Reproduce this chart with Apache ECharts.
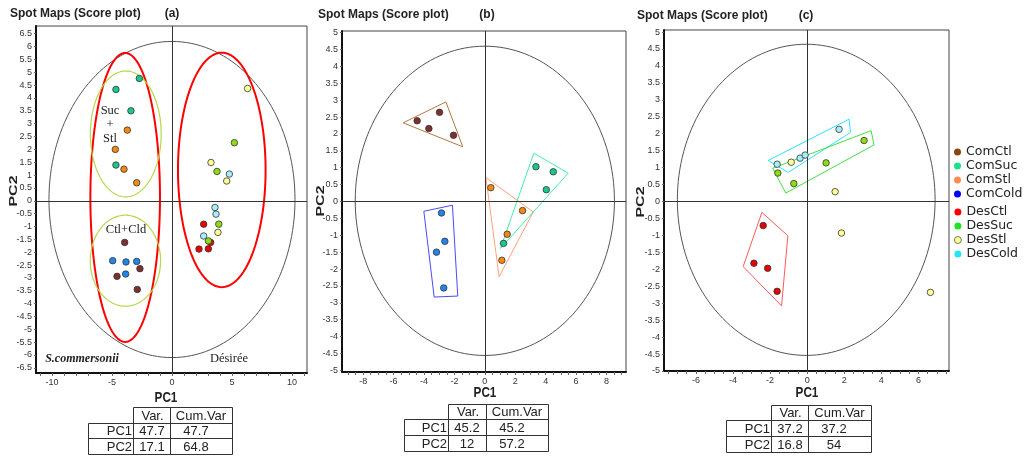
<!DOCTYPE html>
<html lang="en">
<head>
<meta charset="UTF-8">
<title>Spot Maps (Score plot)</title>
<script src="https://cdn.jsdelivr.net/npm/echarts@6/dist/echarts.min.js"></script>
<style>
    html, body { margin: 0; padding: 0; background: #fff; }
    #main { width: 1024px; height: 464px; }
</style>
</head>
<body>
<div id="main"></div>
<script>
// ---------- panel (a): both genotypes ----------
var aComCtl  = [[-3.94, -1.62], [-2.67, -2.64], [-4.58, -2.94], [-2.89, -3.45]];
var aComSuc  = [[-2.72, 4.76], [-4.67, 4.33], [-3.42, 3.5], [-4.67, 1.39]];
var aComStl  = [[-3.72, 2.75], [-4.72, 2.0], [-4.0, 1.23], [-2.94, 0.70]];
var aComCold = [[-4.94, -2.33], [-3.83, -2.38], [-2.94, -2.36], [-3.86, -2.85]];
var aDesCtl  = [[2.64, -0.91], [3.22, -1.62], [2.25, -1.88], [3.03, -1.87]];
var aDesSuc  = [[5.2, 2.26], [3.75, 1.14], [3.9, -0.91], [3.03, -1.56]];
var aDesStl  = [[6.3, 4.37], [3.25, 1.49], [4.56, 0.77], [3.83, -1.23]];
var aDesCold = [[4.78, 1.04], [3.58, -0.26], [3.67, -0.52], [2.64, -1.37]];
// ellipses: [cx, cy, rx, ry]
var aHotelling = [[0, 0.05, 10.25, 6.15]];
var aGenotype  = [[-3.9, 0.13, 2.9, 5.62], [4.15, 1.2, 3.65, 4.56]];
var aTreatment = [[-3.85, 2.6, 2.95, 2.45], [-3.88, -2.33, 2.93, 1.77]];

// ---------- panel (b): S.commersonii ----------
var bComCtl  = [[-2.98, 2.64], [-4.45, 2.39], [-3.68, 2.16], [-2.06, 1.96]];
var bComSuc  = [[3.36, 1.03], [4.5, 0.88], [4.04, 0.35], [1.23, -1.24]];
var bComStl  = [[0.39, 0.41], [2.48, -0.27], [1.47, -0.97], [1.12, -1.74]];
var bComCold = [[-2.85, -0.34], [-2.63, -1.18], [-3.18, -1.5], [-2.7, -2.56]];
var bHotelling = [[0, 0.02, 8.52, 4.58]];
var bHullCtl  = [[-5.37, 2.33], [-2.56, 2.95], [-1.45, 1.62]];
var bHullCold = [[-4.01, -0.29], [-2.13, -0.11], [-1.78, -2.8], [-3.33, -2.83]];
var bHullStl  = [[0.07, 0.71], [3.18, -0.31], [0.94, -2.23]];
var bHullSuc  = [[3.22, 1.43], [5.48, 0.84], [1.03, -1.39]];

// ---------- panel (c): Desiree ----------
var cDesCtl  = [[-2.37, -0.71], [-2.87, -1.82], [-2.13, -1.97], [-1.62, -2.65]];
var cDesSuc  = [[3.07, 1.8], [1.02, 1.14], [-1.58, 0.84], [-0.72, 0.53]];
var cDesStl  = [[-0.86, 1.16], [1.51, 0.29], [1.85, -0.93], [6.65, -2.68]];
var cDesCold = [[1.72, 2.13], [-1.62, 1.1], [-0.38, 1.28], [-0.11, 1.37]];
var cHotelling = [[-0.05, 0.05, 6.95, 4.59]];
var cHullCold = [[-2.1, 1.21], [2.26, 2.43], [2.34, 2.04], [-1.02, 0.86]];
var cHullSuc  = [[-1.86, 0.98], [3.45, 2.09], [3.61, 1.67], [-1.15, 0.25]];
var cHullCtl  = [[-2.44, -0.32], [-1.04, -1.01], [-1.38, -3.08], [-3.45, -1.92]];

// ---------- axis ticks ----------
var aXLabels = [-10, -5, 0, 5, 10];
var aXTicks  = [-11, -10, -9, -8, -7, -6, -5, -4, -3, -2, -1, 0, 1, 2, 3, 4, 5, 6, 7, 8, 9, 10, 11];
var aYLabels = [-6.5, -6, -5.5, -5, -4.5, -4, -3.5, -3, -2.5, -2, -1.5, -1, -0.5, 0,
                0.5, 1, 1.5, 2, 2.5, 3, 3.5, 4, 4.5, 5, 5.5, 6, 6.5];
var bXLabels = [-8, -6, -4, -2, 0, 2, 4, 6, 8];
var bXTicks  = [-9, -8.5, -8, -7.5, -7, -6.5, -6, -5.5, -5, -4.5, -4, -3.5, -3, -2.5, -2, -1.5, -1, -0.5, 0,
                0.5, 1, 1.5, 2, 2.5, 3, 3.5, 4, 4.5, 5, 5.5, 6, 6.5, 7, 7.5, 8, 8.5, 9];
var cXLabels = [-6, -4, -2, 0, 2, 4, 6];
var cXTicks  = [-7.5, -7, -6.5, -6, -5.5, -5, -4.5, -4, -3.5, -3, -2.5, -2, -1.5, -1, -0.5, 0,
                0.5, 1, 1.5, 2, 2.5, 3, 3.5, 4, 4.5, 5, 5.5, 6, 6.5, 7, 7.5];
var bcYLabels = [-5, -4.5, -4, -3.5, -3, -2.5, -2, -1.5, -1, -0.5, 0, 0.5, 1, 1.5, 2, 2.5, 3, 3.5, 4, 4.5, 5];

// ---------- variance tables ----------
var pcNames = ['PC1', 'PC2'];
var aVar = ['47.7', '17.1'], aCum = ['47.7', '64.8'];
var bVar = ['45.2', '12'],   bCum = ['45.2', '57.2'];
var cVar = ['37.2', '16.8'], cCum = ['37.2', '54'];

var FONT = 'Arial, "Liberation Sans", sans-serif';
var SERIF = '"Times New Roman", "Liberation Serif", serif';

var myChart = echarts.init(document.getElementById('main'));

function xAxisFor(g, min, max, labels, ticks) {
    return {
        type: 'value', gridIndex: g, min: min, max: max,
        axisLine: { onZero: false, lineStyle: { color: '#111', width: 2 } },
        axisTick: { show: true, customValues: ticks, length: 3, lineStyle: { color: '#666' } },
        axisLabel: { customValues: labels, fontSize: 9, color: '#333', margin: 5, fontFamily: FONT },
        splitLine: { show: false }
    };
}
function yAxisFor(g, min, max, labels) {
    return {
        type: 'value', gridIndex: g, min: min, max: max,
        axisLine: { onZero: false, lineStyle: { color: '#111', width: 2 } },
        axisTick: { show: true, customValues: labels, length: 2, lineStyle: { color: '#666' } },
        axisLabel: { customValues: labels, fontSize: 9, color: '#333', margin: 4, fontFamily: FONT },
        splitLine: { show: false }
    };
}
function pts(name, g, data, color) {
    return {
        name: name, type: 'scatter', xAxisIndex: g, yAxisIndex: g, data: data,
        symbol: 'circle', symbolSize: 6.5, z: 5,
        itemStyle: { color: color, borderColor: '#333', borderWidth: 0.8, opacity: 1 }
    };
}
function cross(g) {
    return {
        type: 'line', xAxisIndex: g, yAxisIndex: g, data: [], silent: true, z: 1,
        markLine: {
            silent: true, symbol: 'none', label: { show: false },
            lineStyle: { color: '#333', width: 1, type: 'solid' },
            data: [{ xAxis: 0 }, { yAxis: 0 }]
        }
    };
}
function ellipses(g, data, color, width) {
    return {
        type: 'custom', xAxisIndex: g, yAxisIndex: g, data: data, silent: true, z: 2,
        encode: { x: 0, y: 1 },
        renderItem: function (params, api) {
            var cx = api.value(0), cy = api.value(1), rx = api.value(2), ry = api.value(3);
            var p = [];
            for (var i = 0; i < 160; i++) {
                var t = i / 160 * 2 * Math.PI;
                p.push(api.coord([cx + rx * Math.cos(t), cy + ry * Math.sin(t)]));
            }
            return { type: 'polygon', shape: { points: p },
                     style: { fill: 'none', stroke: color, lineWidth: width } };
        }
    };
}
function hull(g, verts, color) {
    return {
        type: 'line', xAxisIndex: g, yAxisIndex: g, data: verts.concat([verts[0]]),
        showSymbol: false, symbol: 'none', silent: true, z: 3,
        lineStyle: { color: color, width: 1 }
    };
}

function text(x, y, s, o) {
    o = o || {};
    return {
        type: 'text', x: x, y: y, silent: true,
        rotation: o.rotation || 0, scaleX: o.scaleX || 1, scaleY: o.scaleY || 1,
        style: {
            text: s, fill: o.color || '#222',
            fontSize: o.size || 12, fontFamily: o.family || FONT,
            fontWeight: o.weight || 'normal', fontStyle: o.style || 'normal',
            align: o.align || 'center', verticalAlign: 'middle'
        }
    };
}
function table(cols, rows, vars, cums) {
    var g = [];
    function ln(x1, y1, x2, y2) {
        g.push({ type: 'line', silent: true,
                 shape: { x1: x1 + 0.5, y1: y1 + 0.5, x2: x2 + 0.5, y2: y2 + 0.5 },
                 style: { stroke: '#333', lineWidth: 1 } });
    }
    ln(cols[1], rows[0], cols[3], rows[0]);
    for (var r = 1; r < 4; r++) ln(cols[0], rows[r], cols[3], rows[r]);
    ln(cols[0], rows[1], cols[0], rows[3]);
    for (var c = 1; c < 4; c++) ln(cols[c], rows[0], cols[c], rows[3]);
    var mid = function (i) { return (rows[i] + rows[i + 1]) / 2 + 1; };
    g.push(text((cols[1] + cols[2]) / 2 + 1, mid(0), 'Var.', { size: 13 }));
    g.push(text((cols[2] + cols[3]) / 2, mid(0), 'Cum.Var', { size: 13 }));
    for (var i = 0; i < 2; i++) {
        g.push(text(cols[1] - 1, mid(i + 1), pcNames[i], { size: 13, align: 'right' }));
        g.push(text(cols[1] + 19, mid(i + 1), vars[i], { size: 13 }));
        g.push(text(cols[2] + 26, mid(i + 1), cums[i], { size: 13 }));
    }
    return g;
}

var graphics = [
    // titles
    text(10, 14, 'Spot Maps (Score plot)', { weight: 'bold', align: 'left' }),
    text(172, 14, '(a)', { weight: 'bold' }),
    text(318, 15, 'Spot Maps (Score plot)', { weight: 'bold', align: 'left' }),
    text(487, 15, '(b)', { weight: 'bold' }),
    text(637, 16, 'Spot Maps (Score plot)', { weight: 'bold', align: 'left' }),
    text(806, 16, '(c)', { weight: 'bold' }),
    // axis names
    text(166, 398, 'PC1', { size: 15, weight: 'bold', scaleX: 0.78 }),
    text(485, 393, 'PC1', { size: 15, weight: 'bold', scaleX: 0.78 }),
    text(807, 393, 'PC1', { size: 15, weight: 'bold', scaleX: 0.78 }),
    text(14, 191, 'PC2', { size: 16, weight: 'bold', rotation: Math.PI / 2, scaleY: 0.65 }),
    text(321, 201, 'PC2', { size: 16, weight: 'bold', rotation: Math.PI / 2, scaleY: 0.65 }),
    text(641, 202, 'PC2', { size: 16, weight: 'bold', rotation: Math.PI / 2, scaleY: 0.65 }),
    // annotations (a)
    text(110, 111, 'Suc', { size: 12.5, family: SERIF }),
    text(110, 125, '+', { size: 12.5, family: SERIF }),
    text(110, 139, 'Stl', { size: 12.5, family: SERIF }),
    text(126, 230, 'Ctl+Cld', { size: 12.5, family: SERIF }),
    text(82, 359, 'S.commersonii', { size: 12, family: SERIF, style: 'italic', weight: 'bold' }),
    text(229, 359, 'Désirée', { size: 12.5, family: SERIF })
].concat(
    table([88, 133, 170, 232], [407, 423, 438, 454], aVar, aCum),
    table([404, 448, 486, 548], [404, 419, 435, 451], bVar, bCum),
    table([726, 771, 808, 871], [405, 420, 436, 452], cVar, cCum)
);

var legendText = { fontSize: 12.5, lineHeight: 14, color: '#222', fontFamily: '"DejaVu Sans", Verdana, sans-serif' };

myChart.setOption({
    animation: false,
    backgroundColor: '#fff',
    grid: [
        { left: 36, top: 26, width: 271, height: 347, show: true, borderColor: '#444', borderWidth: 1 },
        { left: 342, top: 31, width: 284, height: 341, show: true, borderColor: '#444', borderWidth: 1 },
        { left: 664, top: 30, width: 285, height: 341, show: true, borderColor: '#444', borderWidth: 1 }
    ],
    xAxis: [
        xAxisFor(0, -11.33, 11.25, aXLabels, aXTicks),
        xAxisFor(1, -9.39, 9.28, bXLabels, bXTicks),
        xAxisFor(2, -7.72, 7.65, cXLabels, cXTicks)
    ],
    yAxis: [
        yAxisFor(0, -6.7, 6.8, aYLabels),
        yAxisFor(1, -5.05, 5.05, bcYLabels),
        yAxisFor(2, -5.0, 5.06, bcYLabels)
    ],
    legend: [{
        orient: 'vertical', left: 949, top: 140, itemWidth: 7, itemHeight: 7, itemGap: 0,
        icon: 'circle', selectedMode: false, textStyle: legendText,
        data: [
            { name: 'ComCtl', itemStyle: { color: '#8b4513', borderWidth: 0 } },
            { name: 'ComSuc', itemStyle: { color: '#19e08c', borderWidth: 0 } },
            { name: 'ComStl', itemStyle: { color: '#ff8a50', borderWidth: 0 } },
            { name: 'ComCold', itemStyle: { color: '#0000ff', borderWidth: 0 } }
        ]
    }, {
        orient: 'vertical', left: 949, top: 200, itemWidth: 7, itemHeight: 7, itemGap: 0,
        icon: 'circle', selectedMode: false, textStyle: legendText,
        data: [
            { name: 'DesCtl', itemStyle: { color: '#ff0000', borderWidth: 0 } },
            { name: 'DesSuc', itemStyle: { color: '#22e022', borderWidth: 0 } },
            { name: 'DesStl', itemStyle: { color: '#ffff90', borderColor: '#555', borderWidth: 0.8 } },
            { name: 'DesCold', itemStyle: { color: '#22e6f5', borderWidth: 0 } }
        ]
    }],
    graphic: graphics,
    series: [
        // (a)
        cross(0),
        ellipses(0, aHotelling, '#555', 1),
        ellipses(0, aGenotype, '#ff0000', 2),
        ellipses(0, aTreatment, '#b5d94a', 1.2),
        pts('ComCtl', 0, aComCtl, '#7f2f2f'),
        pts('ComSuc', 0, aComSuc, '#17c98a'),
        pts('ComStl', 0, aComStl, '#f28a12'),
        pts('ComCold', 0, aComCold, '#2384ee'),
        pts('DesCtl', 0, aDesCtl, '#e80000'),
        pts('DesSuc', 0, aDesSuc, '#8fdc12'),
        pts('DesStl', 0, aDesStl, '#ffff95'),
        pts('DesCold', 0, aDesCold, '#a6eefc'),
        // (b)
        cross(1),
        ellipses(1, bHotelling, '#555', 1),
        hull(1, bHullCtl, '#b07a45'),
        hull(1, bHullCold, '#4a4aff'),
        hull(1, bHullStl, '#ffa27c'),
        hull(1, bHullSuc, '#45f0a5'),
        pts('ComCtl', 1, bComCtl, '#7f2f2f'),
        pts('ComSuc', 1, bComSuc, '#17c98a'),
        pts('ComStl', 1, bComStl, '#f28a12'),
        pts('ComCold', 1, bComCold, '#2384ee'),
        // (c)
        cross(2),
        ellipses(2, cHotelling, '#555', 1),
        hull(2, cHullCold, '#2ee0ff'),
        hull(2, cHullSuc, '#44e044'),
        hull(2, cHullCtl, '#ff5a5a'),
        pts('DesCtl', 2, cDesCtl, '#e80000'),
        pts('DesSuc', 2, cDesSuc, '#8fdc12'),
        pts('DesStl', 2, cDesStl, '#ffff95'),
        pts('DesCold', 2, cDesCold, '#a6eefc')
    ]
});
</script>
</body>
</html>
